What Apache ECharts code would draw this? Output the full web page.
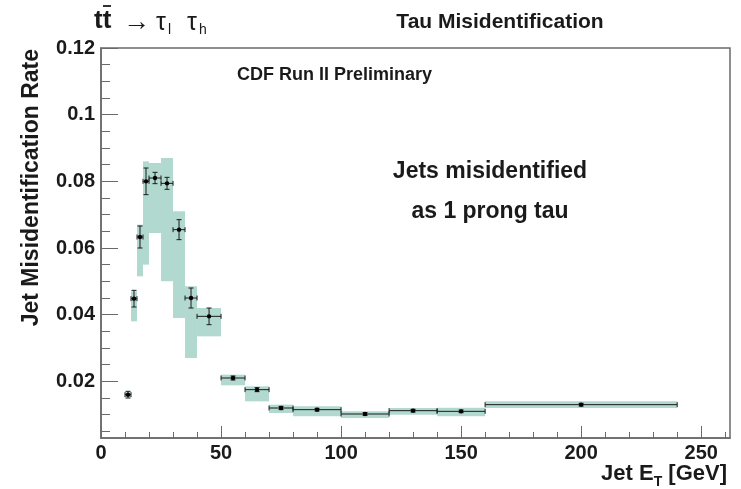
<!DOCTYPE html>
<html>
<head>
<meta charset="utf-8">
<script src="https://cdn.jsdelivr.net/npm/echarts@6/dist/echarts.min.js"></script>
<style>
  html, body { margin: 0; padding: 0; background: #fff; }
  #chart { width: 741px; height: 489px; }
</style>
</head>
<body>
<div id="chart"></div>
<script>
// Jet -> tau fake rate per jet E_T bin
const binLow  = [10, 12.5, 15, 17.5, 20, 25, 30, 35, 40, 50, 60, 70, 80, 100, 120, 140, 160];
const binHigh = [12.5, 15, 17.5, 20, 25, 30, 35, 40, 50, 60, 70, 80, 100, 120, 140, 160, 240];
const rate    = [0.016, 0.0448, 0.0633, 0.080, 0.081, 0.0794, 0.0655, 0.045, 0.0395,
                 0.021, 0.0175, 0.012, 0.0115, 0.0102, 0.0112, 0.011, 0.013];
const statErr = [0.001, 0.0025, 0.0033, 0.004, 0.0017, 0.0018, 0.003, 0.003, 0.0025,
                 0.0006, 0.0006, 0.0005, 0.0004, 0.0004, 0.0004, 0.0004, 0.0004];
// systematic band (lower / upper edge)
const sysLow  = [0.0153, 0.038, 0.0515, 0.055, 0.0645, 0.050, 0.039, 0.027, 0.0335,
                 0.0188, 0.014, 0.0105, 0.0095, 0.009, 0.010, 0.0095, 0.012];
const sysHigh = [0.0167, 0.047, 0.067, 0.086, 0.0855, 0.087, 0.071, 0.0485, 0.042,
                 0.022, 0.0185, 0.013, 0.0125, 0.011, 0.012, 0.0121, 0.014];

// axis ticks
const xMajor = [0, 50, 100, 150, 200, 250];
const xMinor = [10, 20, 30, 40, 60, 70, 80, 90, 110, 120, 130, 140, 160, 170, 180, 190, 210, 220, 230, 240, 260];
const yMajor = [0.02, 0.04, 0.06, 0.08, 0.1, 0.12];
const yMinor = [0.005, 0.01, 0.015, 0.025, 0.03, 0.035, 0.045, 0.05, 0.055, 0.065, 0.07, 0.075,
                0.085, 0.09, 0.095, 0.105, 0.11, 0.115];

const FONT = '"Liberation Sans", Arial, Helvetica, sans-serif';
const FRAME = '#6a6a6a';
const INK = '#1a1a1a';

const bandData = binLow.map((lo, i) => [lo, binHigh[i], sysLow[i], sysHigh[i]]);
const pointData = binLow.map((lo, i) => [lo, binHigh[i], rate[i], statErr[i]]);

const chart = echarts.init(document.getElementById('chart'), null, { renderer: 'canvas' });

const xBase = {
  type: 'value', min: 0, max: 262, position: 'bottom',
  splitLine: { show: false }
};
const yBase = {
  type: 'value', min: 0.003, max: 0.12, position: 'left',
  splitLine: { show: false }
};

function txt(x, y, text, font, align) {
  return {
    type: 'text', x: x, y: y,
    style: { text: text, fill: INK, font: font + ' ' + FONT,
             textAlign: align || 'left', textVerticalAlign: 'middle' }
  };
}

chart.setOption({
  animation: false,
  backgroundColor: '#fff',
  grid: {
    left: 101, right: 11, top: 48, bottom: 51,
    show: true, borderColor: FRAME, borderWidth: 1.5, backgroundColor: 'transparent'
  },
  xAxis: [
    Object.assign({}, xBase, {
      axisLine: { show: true, lineStyle: { color: FRAME, width: 1.5 } },
      axisTick: { show: true, inside: true, length: 12, customValues: xMajor,
                  lineStyle: { color: FRAME, width: 1 } },
      axisLabel: { show: true, customValues: xMajor, margin: 5, color: INK,
                   fontFamily: FONT, fontSize: 20, fontWeight: 'bold' }
    }),
    Object.assign({}, xBase, {
      axisLine: { show: false },
      axisTick: { show: true, inside: true, length: 6, customValues: xMinor,
                  lineStyle: { color: FRAME, width: 1 } },
      axisLabel: { show: false }
    })
  ],
  yAxis: [
    Object.assign({}, yBase, {
      axisLine: { show: true, lineStyle: { color: FRAME, width: 1.5 } },
      axisTick: { show: true, inside: true, length: 17, customValues: yMajor,
                  lineStyle: { color: FRAME, width: 1 } },
      axisLabel: { show: true, customValues: yMajor, margin: 6, color: INK,
                   fontFamily: FONT, fontSize: 20, fontWeight: 'bold' }
    }),
    Object.assign({}, yBase, {
      axisLine: { show: false },
      axisTick: { show: true, inside: true, length: 9, customValues: yMinor,
                  lineStyle: { color: FRAME, width: 1 } },
      axisLabel: { show: false }
    })
  ],
  series: [
    {
      // systematic uncertainty band
      type: 'custom',
      xAxisIndex: 0, yAxisIndex: 0,
      clip: true,
      data: bandData,
      renderItem: function (params, api) {
        const tl = api.coord([api.value(0), api.value(3)]);
        const br = api.coord([api.value(1), api.value(2)]);
        return {
          type: 'rect',
          shape: { x: tl[0], y: tl[1], width: br[0] - tl[0], height: br[1] - tl[1] },
          style: { fill: '#b2d9d0' }
        };
      },
      z: 1
    },
    {
      // measured points with bin-width and statistical error bars
      type: 'custom',
      xAxisIndex: 0, yAxisIndex: 0,
      clip: true,
      data: pointData,
      renderItem: function (params, api) {
        const lo = api.value(0), hi = api.value(1), v = api.value(2), e = api.value(3);
        const mid = (lo + hi) / 2;
        const pL = api.coord([lo, v]);
        const pR = api.coord([hi, v]);
        const pC = api.coord([mid, v]);
        const pT = api.coord([mid, v + e]);
        const pB = api.coord([mid, v - e]);
        const cap = 2.5;
        const ls = { stroke: INK, lineWidth: 1 };
        return {
          type: 'group',
          children: [
            { type: 'line', shape: { x1: pL[0], y1: pL[1], x2: pR[0], y2: pR[1] }, style: ls },
            { type: 'line', shape: { x1: pL[0], y1: pL[1] - cap, x2: pL[0], y2: pL[1] + cap }, style: ls },
            { type: 'line', shape: { x1: pR[0], y1: pR[1] - cap, x2: pR[0], y2: pR[1] + cap }, style: ls },
            { type: 'line', shape: { x1: pT[0], y1: pT[1], x2: pB[0], y2: pB[1] }, style: ls },
            { type: 'line', shape: { x1: pT[0] - cap, y1: pT[1], x2: pT[0] + cap, y2: pT[1] }, style: ls },
            { type: 'line', shape: { x1: pB[0] - cap, y1: pB[1], x2: pB[0] + cap, y2: pB[1] }, style: ls },
            { type: 'circle', shape: { cx: pC[0], cy: pC[1], r: 2.2 }, style: { fill: '#000' } }
          ]
        };
      },
      z: 3
    }
  ],
  graphic: [
    txt(500, 22, 'Tau Misidentification', 'bold 21px', 'center'),
    // t tbar -> tau_l tau_h
    txt(94, 21, 'tt', 'bold 26px'),
    { type: 'line', shape: { x1: 103, y1: 6, x2: 111, y2: 6 }, style: { stroke: INK, lineWidth: 1.8 } },
    txt(123, 23, '\u2192', '27px'),
    txt(156, 23, '\u03c4', '25px'),
    txt(168, 30, 'l', '14px'),
    txt(187, 23, '\u03c4', '25px'),
    txt(199, 30, 'h', '14px'),
    txt(237, 75, 'CDF Run II Preliminary', 'bold 18px'),
    txt(490, 172, 'Jets misidentified', 'bold 23px', 'center'),
    txt(490, 212, 'as 1 prong tau', 'bold 23px', 'center'),
    {
      type: 'text', x: 32, y: 49, rotation: Math.PI / 2,
      style: { text: 'Jet Misidentification Rate', fill: INK, font: 'bold 23px ' + FONT,
               textAlign: 'right', textVerticalAlign: 'middle' }
    },
    {
      type: 'text', x: 727, y: 474,
      style: {
        text: '{n|Jet E}{s|T}{n| [GeV]}',
        fill: INK, textAlign: 'right', textVerticalAlign: 'middle',
        rich: {
          n: { fontFamily: FONT, fontSize: 22, fontWeight: 'bold', lineHeight: 30, verticalAlign: 'middle' },
          s: { fontFamily: FONT, fontSize: 14, fontWeight: 'bold', lineHeight: 30, verticalAlign: 'bottom' }
        }
      }
    }
  ]
});
</script>
</body>
</html>
